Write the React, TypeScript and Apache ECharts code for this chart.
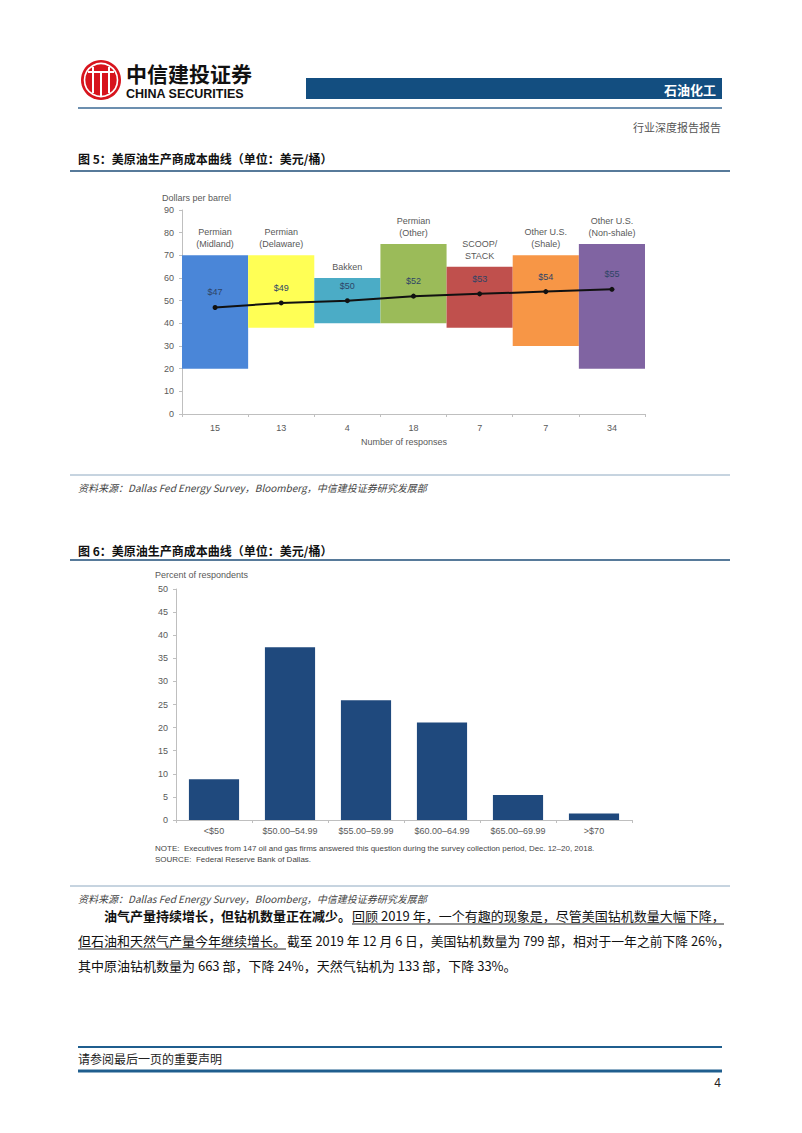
import React, { useEffect, useRef } from "react";
import * as echarts from "echarts";

// ---- Figure 5 data ----
const regionNames = [
  "Permian\n(Midland)",
  "Permian\n(Delaware)",
  "Bakken",
  "Permian\n(Other)",
  "SCOOP/\nSTACK",
  "Other U.S.\n(Shale)",
  "Other U.S.\n(Non-shale)",
];
const responseCounts = ["15", "13", "4", "18", "7", "7", "34"];
const costLow = [20, 38, 40, 40, 38, 30, 20];
const costHigh = [70, 70, 60, 75, 65, 70, 75];
const breakevenCost = [47, 49, 50, 52, 53, 54, 55];
const regionColors = ["#4A86D8", "#FFFF55", "#4BACC6", "#9BBB59", "#C0504D", "#F79646", "#8064A2"];
const yTicks1 = { min: 0, max: 90, interval: 10 };

// ---- Figure 6 data ----
const priceRanges = ["<$50", "$50.00–54.99", "$55.00–59.99", "$60.00–64.99", "$65.00–69.99", ">$70"];
const respondentPercent = [8.8, 37.4, 25.9, 21.1, 5.4, 1.4];
const yTicks2 = { min: 0, max: 50, interval: 5 };

const CJK = '"Noto Sans CJK SC", "Noto Sans", sans-serif';
const LAT = '"Liberation Sans", Arial, sans-serif';

function txt(x: number, y: number, text: string, o: any = {}) {
  return {
    type: "text",
    x,
    y,
    silent: true,
    style: {
      text,
      fontSize: o.size || 12,
      fontFamily: o.family || CJK,
      fontWeight: o.weight || "normal",
      fontStyle: o.style || "normal",
      fill: o.fill || "#222",
      align: o.align || "left",
      verticalAlign: "middle",
    },
  };
}
function hline(x1: number, x2: number, y: number, color: string, w: number) {
  return { type: "line", silent: true, shape: { x1, y1: y, x2, y2: y }, style: { stroke: color, lineWidth: w } };
}

export default function App() {
  const ref = useRef<HTMLDivElement>(null);
  useEffect(() => {
    if (!ref.current) return;
    const chart = echarts.init(ref.current, undefined, { renderer: "svg" });
    const axisGray = "#BFBFBF";
    const labelGray = "#595959";

    const graphic: any[] = [
      // logo
      { type: "circle", silent: true, shape: { cx: 101, cy: 80, r: 20 }, style: { fill: "#D7141D" } },
      { type: "circle", silent: true, shape: { cx: 101, cy: 80, r: 16.5 }, style: { fill: "none", stroke: "#fff", lineWidth: 1.6 } },
      { type: "line", silent: true, shape: { x1: 93, y1: 67, x2: 93, y2: 93 }, style: { stroke: "#fff", lineWidth: 2 } },
      { type: "line", silent: true, shape: { x1: 109, y1: 67, x2: 109, y2: 93 }, style: { stroke: "#fff", lineWidth: 2 } },
      { type: "line", silent: true, shape: { x1: 101, y1: 72, x2: 101, y2: 96 }, style: { stroke: "#fff", lineWidth: 2 } },
      { type: "line", silent: true, shape: { x1: 88, y1: 72, x2: 114, y2: 72 }, style: { stroke: "#fff", lineWidth: 2 } },
      txt(126, 73, "中信建投证券", { size: 21, weight: "bold", fill: "#111" }),
      txt(126, 94, "CHINA SECURITIES", { size: 12.5, weight: "bold", family: LAT, fill: "#111" }),
      { type: "rect", silent: true, shape: { x: 306, y: 78, width: 416, height: 21 }, style: { fill: "#134E80" } },
      txt(716, 89, "石油化工", { size: 13, weight: "bold", fill: "#fff", align: "right" }),
      hline(78, 722, 108, "#3B6A94", 1.5),
      txt(721, 127, "行业深度报告报告", { size: 11, fill: "#555", align: "right" }),

      // Figure 5 frame
      txt(78, 158, "图 5：美原油生产商成本曲线（单位：美元/桶）", { size: 12, weight: "bold", fill: "#111" }),
      hline(70, 730, 171, "#1F4E79", 1.5),
      txt(162, 198, "Dollars per barrel", { size: 9, family: LAT, fill: labelGray }),
      txt(404, 442, "Number of responses", { size: 9, family: LAT, fill: labelGray, align: "center" }),
      hline(70, 730, 475, "#8EA9C1", 1),
      txt(78, 487, "资料来源：Dallas Fed Energy Survey，Bloomberg，中信建投证券研究发展部", { size: 10, style: "italic", fill: "#444" }),

      // Figure 6 frame
      txt(78, 550, "图 6：美原油生产商成本曲线（单位：美元/桶）", { size: 12, weight: "bold", fill: "#111" }),
      hline(70, 730, 560, "#1F4E79", 1.5),
      txt(155, 575, "Percent of respondents", { size: 9, family: LAT, fill: labelGray }),
      txt(155, 848, "NOTE:  Executives from 147 oil and gas firms answered this question during the survey collection period, Dec. 12–20, 2018.", { size: 8, family: LAT, fill: "#444" }),
      txt(155, 859, "SOURCE:  Federal Reserve Bank of Dallas.", { size: 8, family: LAT, fill: "#444" }),
      hline(70, 730, 886, "#8EA9C1", 1),
      txt(78, 898, "资料来源：Dallas Fed Energy Survey，Bloomberg，中信建投证券研究发展部", { size: 10, style: "italic", fill: "#444" }),

      // paragraph
      txt(104, 915, "油气产量持续增长，但钻机数量正在减少。", { size: 13, weight: "bold", fill: "#111" }),
      txt(352, 915, "回顾 2019 年，一个有趣的现象是，尽管美国钻机数量大幅下降，", { size: 13, fill: "#111" }),
      hline(352, 724, 924, "#222", 1),
      txt(78, 940, "但石油和天然气产量今年继续增长。", { size: 13, fill: "#111" }),
      hline(78, 286, 949, "#222", 1),
      txt(287, 940, "截至 2019 年 12 月 6 日，美国钻机数量为 799 部，相对于一年之前下降 26%，", { size: 12.8, fill: "#111" }),
      txt(78, 965, "其中原油钻机数量为 663 部，下降 24%，天然气钻机为 133 部，下降 33%。", { size: 13, fill: "#111" }),

      // footer
      hline(78, 722, 1047, "#1F5E8E", 2),
      txt(78, 1058, "请参阅最后一页的重要声明", { size: 12, fill: "#222" }),
      hline(78, 722, 1071, "#1F5E8E", 3),
      txt(721, 1083, "4", { size: 12, fill: "#222", align: "right", family: LAT }),
    ];

    const rangeData = costHigh.map((h, i) => ({
      value: h - costLow[i],
      itemStyle: { color: regionColors[i] },
    }));

    chart.setOption({
      animation: false,
      backgroundColor: "#ffffff",
      textStyle: { fontFamily: LAT },
      grid: [
        { left: 182, top: 210, width: 463, height: 204, containLabel: false },
        { left: 176, top: 589, width: 456, height: 231, containLabel: false },
      ],
      xAxis: [
        {
          type: "category",
          gridIndex: 0,
          data: responseCounts,
          axisLine: { lineStyle: { color: axisGray } },
          axisTick: { show: true, length: 3, lineStyle: { color: axisGray } },
          axisLabel: { color: labelGray, fontSize: 9, margin: 9 },
        },
        {
          type: "category",
          gridIndex: 1,
          data: priceRanges,
          axisLine: { lineStyle: { color: axisGray } },
          axisTick: { show: true, length: 3, lineStyle: { color: axisGray } },
          axisLabel: { color: labelGray, fontSize: 9, margin: 6 },
        },
      ],
      yAxis: [
        {
          type: "value",
          gridIndex: 0,
          min: yTicks1.min,
          max: yTicks1.max,
          interval: yTicks1.interval,
          axisLine: { show: true, lineStyle: { color: axisGray } },
          axisTick: { show: true, length: 3, lineStyle: { color: axisGray } },
          splitLine: { show: false },
          axisLabel: { color: labelGray, fontSize: 9, margin: 8 },
        },
        {
          type: "value",
          gridIndex: 1,
          min: yTicks2.min,
          max: yTicks2.max,
          interval: yTicks2.interval,
          axisLine: { show: true, lineStyle: { color: axisGray } },
          axisTick: { show: true, length: 3, lineStyle: { color: axisGray } },
          splitLine: { show: false },
          axisLabel: { color: labelGray, fontSize: 9, margin: 8 },
        },
      ],
      graphic,
      series: [
        {
          type: "bar",
          xAxisIndex: 0,
          yAxisIndex: 0,
          stack: "cost",
          data: costLow,
          barCategoryGap: "0%",
          itemStyle: { color: "rgba(0,0,0,0)" },
          silent: true,
        },
        {
          type: "bar",
          xAxisIndex: 0,
          yAxisIndex: 0,
          stack: "cost",
          data: rangeData,
          barCategoryGap: "0%",
          label: {
            show: true,
            position: "top",
            distance: 5,
            formatter: (p: any) => regionNames[p.dataIndex],
            color: labelGray,
            fontSize: 9,
            lineHeight: 12,
            fontFamily: LAT,
          },
        },
        {
          type: "line",
          xAxisIndex: 0,
          yAxisIndex: 0,
          data: breakevenCost,
          symbol: "circle",
          symbolSize: 5,
          lineStyle: { color: "#111", width: 2 },
          itemStyle: { color: "#111" },
          label: {
            show: true,
            position: "top",
            distance: 8,
            formatter: (p: any) => "$" + p.value,
            color: "#2E4466",
            fontSize: 9,
            fontFamily: LAT,
          },
          z: 5,
        },
        {
          type: "bar",
          xAxisIndex: 1,
          yAxisIndex: 1,
          data: respondentPercent,
          barWidth: "66%",
          itemStyle: { color: "#1F497D" },
        },
      ],
    });
    return () => chart.dispose();
  }, []);
  return (
    <div
      ref={ref}
      style={{ position: "absolute", left: 0, top: 0, width: 802, height: 1133, background: "#fff" }}
    />
  );
}
